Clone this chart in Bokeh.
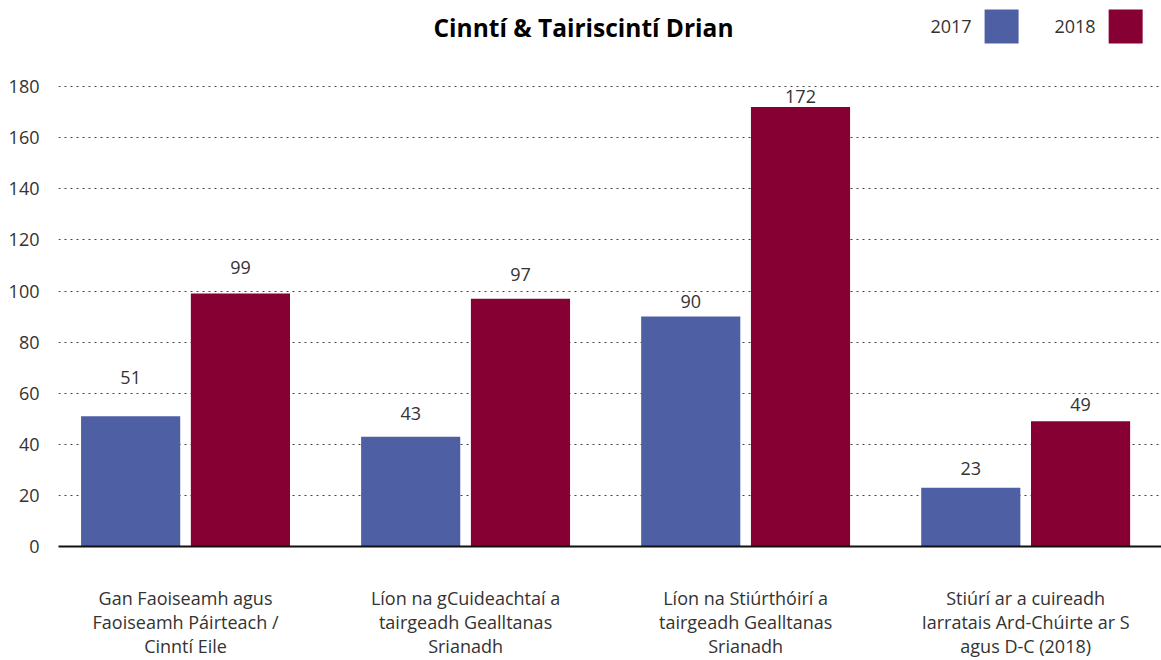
from bokeh.plotting import figure
from bokeh.models import ColumnDataSource, FixedTicker, Range1d
from bokeh.core.properties import value
from bokeh.embed import file_html
from bokeh.resources import INLINE

# ---- data ----
categories = [
    "Gan Faoiseamh agus\nFaoiseamh Páirteach /\nCinntí Eile",
    "Líon na gCuideachtaí a\ntairgeadh Gealltanas\nSrianadh",
    "Líon na Stiúrthóirí a\ntairgeadh Gealltanas\nSrianadh",
    "Stiúrí ar a cuireadh\nIarratais Ard-Chúirte ar S\nagus D-C (2018)",
]
series_names = ["2017", "2018"]
values_2017 = [51, 43, 90, 23]
values_2018 = [99, 97, 172, 49]
y_ticks = [0, 20, 40, 60, 80, 100, 120, 140, 160, 180]
title_text = "Cinntí & Tairiscintí Drian"

# ---- style ----
colors = ["#4f5fa3", "#870033"]
FONT = "Open Sans"
TXT = "#333333"
label_gap_2017 = [39, 23, 15, 19]   # pixel gaps of value labels above bars
label_gap_2018 = [26, 24, 11, 17]

centers = [i + 0.5 for i in range(len(categories))]
dodge = 0.196
bar_w = 0.354

p = figure(width=1161, height=660, output_backend="svg", toolbar_location=None,
           x_range=Range1d(0.0464, 3.985), y_range=Range1d(0, 213.7),
           min_border_left=58, min_border_right=0, min_border_top=0,
           min_border_bottom=114)
p.outline_line_color = None
p.background_fill_color = "white"
p.border_fill_color = "white"

src17 = ColumnDataSource(dict(x=[c - dodge for c in centers], top=values_2017,
                              lab=[str(v) for v in values_2017],
                              off=[-g for g in label_gap_2017]))
src18 = ColumnDataSource(dict(x=[c + dodge for c in centers], top=values_2018,
                              lab=[str(v) for v in values_2018],
                              off=[-g for g in label_gap_2018]))

p.vbar(x="x", top="top", bottom=0, width=bar_w, source=src17,
       fill_color=colors[0], line_color=None)
p.vbar(x="x", top="top", bottom=0, width=bar_w, source=src18,
       fill_color=colors[1], line_color=None)

for src in (src17, src18):
    p.text(x="x", y="top", text="lab", y_offset="off", source=src,
           text_align="center", text_baseline="middle",
           text_font=value(FONT), text_font_size="18px", text_color=TXT)

# title
p.text(x=[1.921], y=[203.1], text=[title_text], text_align="center",
       text_baseline="middle", text_font=value(FONT), text_font_size="24.5px",
       text_font_style="bold", text_color="#000000")

# legend (text left of swatch)
leg_x = [3.414, 3.857]
leg_y = [203.5, 203.5]
p.scatter(x=leg_x, y=leg_y, marker="square", size=34, fill_color=colors,
          line_color=None)
p.text(x=leg_x, y=leg_y, text=series_names, x_offset=-30, text_align="right",
       text_baseline="middle", text_font=value(FONT), text_font_size="18px",
       text_color=TXT)

# axes
p.xgrid.visible = False
p.ygrid.ticker = FixedTicker(ticks=y_ticks)
p.ygrid.grid_line_color = "#444444"
p.ygrid.grid_line_dash = "2 4"
p.ygrid.grid_line_width = 1

p.yaxis.ticker = FixedTicker(ticks=y_ticks)
p.yaxis.axis_line_color = None
p.yaxis.major_tick_line_color = None
p.yaxis.minor_tick_line_color = None
p.yaxis.major_label_standoff = 13
p.yaxis.major_label_text_font = FONT
p.yaxis.major_label_text_font_size = "18px"
p.yaxis.major_label_text_color = TXT

p.xaxis.ticker = FixedTicker(ticks=centers)
p.xaxis.major_label_overrides = {c: lab for c, lab in zip(centers, categories)}
p.xaxis.axis_line_color = "#111111"
p.xaxis.axis_line_width = 2
p.xaxis.major_tick_line_color = None
p.xaxis.minor_tick_line_color = None
p.xaxis.major_label_standoff = 33
p.xaxis.major_label_text_font = FONT
p.xaxis.major_label_text_font_size = "18px"
p.xaxis.major_label_text_color = TXT
p.xaxis.major_label_text_line_height = 1.0

open("out.html", "w").write(file_html(p, INLINE))
